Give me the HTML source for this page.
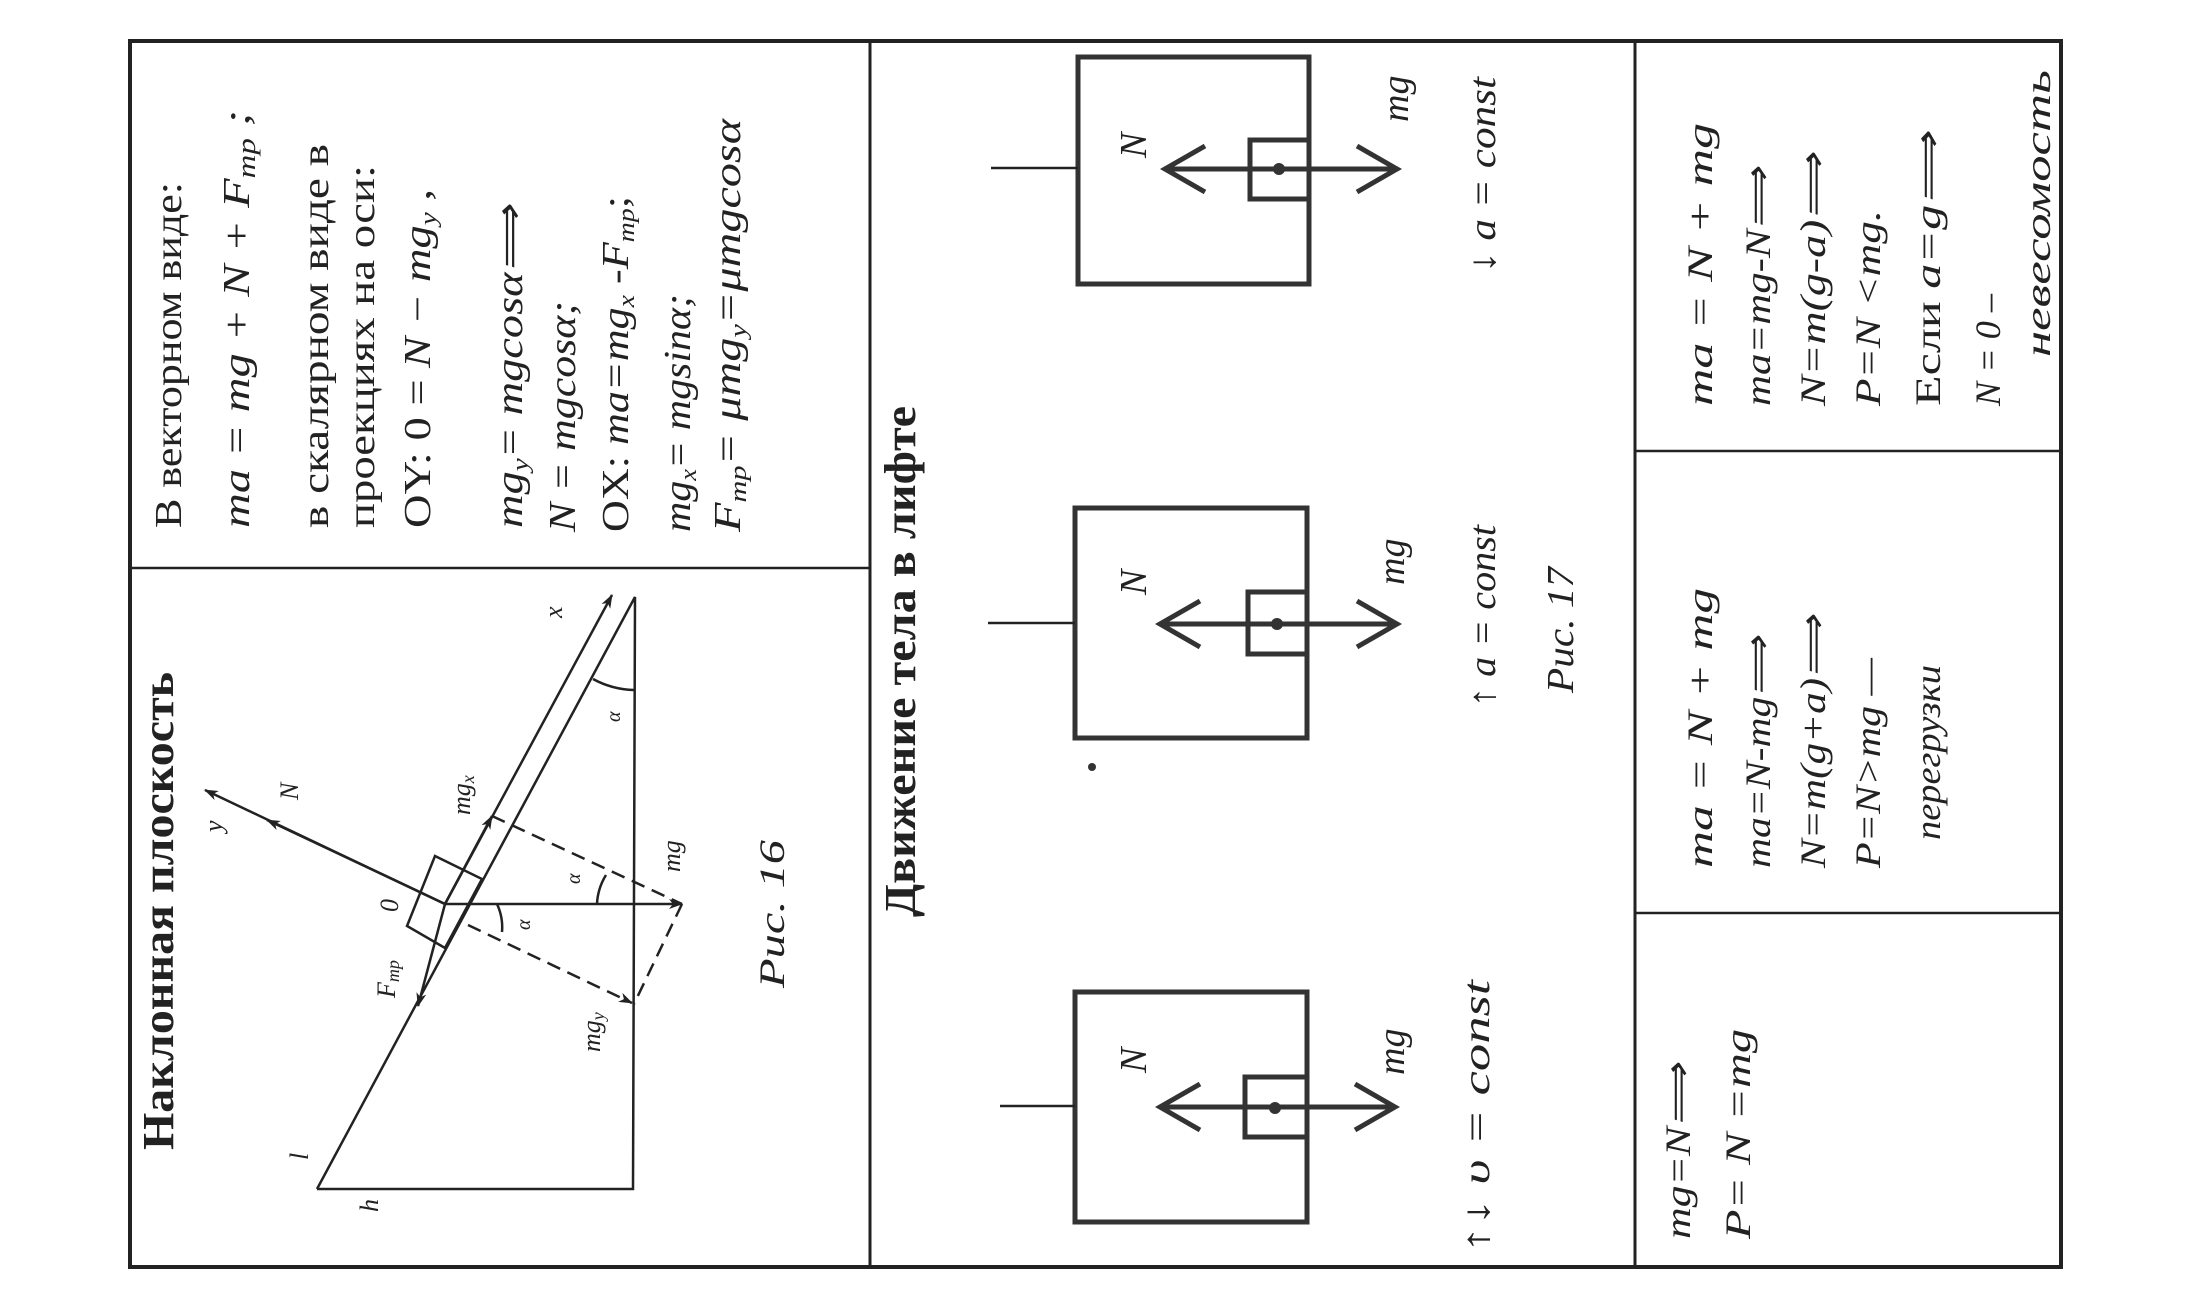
<!DOCTYPE html>
<html><head><meta charset="utf-8"><style>
html,body{margin:0;padding:0;background:#fff;}
svg{display:block;}
text{font-family:"Liberation Serif",serif;fill:#222;}
.i{font-style:italic;}
.b{font-weight:bold;}
</style></head><body>
<svg width="2200" height="1300" viewBox="0 0 2200 1300" xmlns="http://www.w3.org/2000/svg">
<defs>
<marker id="ah" markerWidth="14" markerHeight="10" refX="13" refY="5" orient="auto" markerUnits="userSpaceOnUse">
<path d="M0,0 L14,5 L0,10 L4,5 Z" fill="#222"/>
</marker>
</defs>
<g stroke="#222" fill="none">
<rect x="130" y="41" width="1931" height="1226" stroke-width="4"/>
<line x1="870" y1="41" x2="870" y2="1267" stroke-width="3"/>
<line x1="1635" y1="41" x2="1635" y2="1267" stroke-width="3"/>
<line x1="130" y1="568" x2="870" y2="568" stroke-width="2.5"/>
<line x1="1635" y1="451" x2="2061" y2="451" stroke-width="2.5"/>
<line x1="1635" y1="913" x2="2061" y2="913" stroke-width="2.5"/>

<g stroke-width="2.5">
<polyline points="317,1189 635,597 633,1189 317,1189"/>
<polygon points="435,856 482,879 445,948 407,926"/>
<line x1="445" y1="904" x2="612" y2="595" marker-end="url(#ah)"/>
<line x1="445" y1="904" x2="492" y2="816" marker-end="url(#ah)"/>
<line x1="445" y1="904" x2="418" y2="1006" marker-end="url(#ah)"/>
<line x1="445" y1="904" x2="205" y2="790" marker-end="url(#ah)"/>
<line x1="445" y1="904" x2="267" y2="820" marker-end="url(#ah)"/>
<line x1="445" y1="904" x2="682" y2="904" marker-end="url(#ah)"/>
<line x1="468" y1="925" x2="632" y2="1003" stroke-dasharray="14,8" marker-end="url(#ah)"/>
<line x1="492" y1="816" x2="682" y2="904" stroke-dasharray="14,8"/>
<line x1="682" y1="904" x2="634" y2="1004" stroke-dasharray="14,8"/>
<path d="M593,679 A90,90 0 0 0 634,690"/>
<path d="M597,904 A60,60 0 0 1 606,875"/>
<path d="M497,904 A55,55 0 0 1 502,932"/>
</g>

<g stroke-width="5" stroke="#333">
<rect x="1075" y="992" width="232" height="230"/>
<rect x="1245" y="1077" width="62" height="60"/>
<rect x="1075" y="508" width="232" height="230"/>
<rect x="1248" y="592" width="59" height="62"/>
<rect x="1078" y="57" width="231" height="227"/>
<rect x="1250" y="140" width="59" height="59"/>
</g>
<g stroke-width="2.5">
<line x1="1000" y1="1106" x2="1075" y2="1106"/>
<line x1="988" y1="623" x2="1075" y2="623"/>
<line x1="991" y1="168" x2="1078" y2="168"/>
</g>
<g stroke-width="5" stroke="#333">
<line x1="1160" y1="1107" x2="1395" y2="1107"/>
<polyline points="1200,1084 1160,1107 1200,1130"/>
<polyline points="1355,1084 1395,1107 1355,1130"/>
<line x1="1160" y1="624" x2="1397" y2="624"/>
<polyline points="1200,601 1160,624 1200,647"/>
<polyline points="1357,601 1397,624 1357,647"/>
<line x1="1165" y1="169" x2="1397" y2="169"/>
<polyline points="1205,146 1165,169 1205,192"/>
<polyline points="1357,146 1397,169 1357,192"/>
</g>
</g>
<g fill="#333">
<circle cx="1275" cy="1108" r="6"/>
<circle cx="1277" cy="624" r="6"/>
<circle cx="1279" cy="169" r="6"/>
<circle cx="1092" cy="767" r="4"/>
</g>

<g font-size="38">
<text transform="translate(181,528) rotate(-90)" textLength="346" lengthAdjust="spacingAndGlyphs">В векторном виде:</text>
<text class="i" transform="translate(249,528) rotate(-90)" textLength="418" lengthAdjust="spacingAndGlyphs">ma = mg + N + F<tspan font-size="26" dy="6">тр</tspan><tspan dy="-6"> ;</tspan></text>
<text transform="translate(328,528) rotate(-90)" textLength="384" lengthAdjust="spacingAndGlyphs">в скалярном виде в</text>
<text transform="translate(374,528) rotate(-90)" textLength="363" lengthAdjust="spacingAndGlyphs">проекциях на оси:</text>
<text transform="translate(430,528) rotate(-90)" textLength="339" lengthAdjust="spacingAndGlyphs">OY: 0 = <tspan class="i">N − mg</tspan><tspan class="i" font-size="24" dy="6">y</tspan><tspan dy="-6"> ,</tspan></text>
<text class="i" transform="translate(522,528) rotate(-90)" textLength="322" lengthAdjust="spacingAndGlyphs">mg<tspan font-size="24" dy="6">y</tspan><tspan dy="-6">= mgcosα⟹</tspan></text>
<text class="i" transform="translate(575,532) rotate(-90)" textLength="231" lengthAdjust="spacingAndGlyphs">N = mgcosα;</text>
<text transform="translate(628,532) rotate(-90)" textLength="336" lengthAdjust="spacingAndGlyphs">OX: <tspan class="i">ma=mg</tspan><tspan class="i" font-size="24" dy="6">x</tspan><tspan class="i" dy="-6"> -F</tspan><tspan class="i" font-size="24" dy="6">тр</tspan><tspan dy="-6">;</tspan></text>
<text class="i" transform="translate(690,532) rotate(-90)" textLength="238" lengthAdjust="spacingAndGlyphs">mg<tspan font-size="24" dy="6">x</tspan><tspan dy="-6">= mgsinα;</tspan></text>
<text class="i" transform="translate(740,532) rotate(-90)" textLength="413" lengthAdjust="spacingAndGlyphs">F<tspan font-size="24" dy="6">тр</tspan><tspan dy="-6">= μmg</tspan><tspan font-size="24" dy="6">y</tspan><tspan dy="-6">=μmgcosα</tspan></text>
</g>
<text class="b" font-size="44" transform="translate(173,1150) rotate(-90)" textLength="478" lengthAdjust="spacingAndGlyphs">Наклонная плоскость</text>

<g class="i" font-size="26">
<text transform="translate(222,832) rotate(-90)">y</text>
<text transform="translate(298,800) rotate(-90)">N</text>
<text transform="translate(562,618) rotate(-90)">x</text>
<text transform="translate(470,815) rotate(-90)">mg<tspan font-size="18" dy="4">x</tspan></text>
<text transform="translate(680,872) rotate(-90)">mg</text>
<text transform="translate(398,912) rotate(-90)">0</text>
<text transform="translate(395,998) rotate(-90)">F<tspan font-size="18" dy="4">тр</tspan></text>
<text transform="translate(600,1052) rotate(-90)">mg<tspan font-size="18" dy="4">y</tspan></text>
<text transform="translate(620,722) rotate(-90)" font-size="20">α</text>
<text transform="translate(580,884) rotate(-90)" font-size="20">α</text>
<text transform="translate(530,930) rotate(-90)" font-size="20">α</text>
<text transform="translate(308,1160) rotate(-90)">l</text>
<text transform="translate(378,1212) rotate(-90)">h</text>
</g>
<text class="i" font-size="36" transform="translate(784,988) rotate(-90)" textLength="148" lengthAdjust="spacingAndGlyphs">Рис. 16</text>

<text class="b" font-size="44" transform="translate(915,917) rotate(-90)" textLength="511" lengthAdjust="spacingAndGlyphs">Движение тела в лифте</text>
<g class="i" font-size="38">
<text transform="translate(1146,1073) rotate(-90)">N</text>
<text transform="translate(1404,1075) rotate(-90)">mg</text>
<text transform="translate(1146,595) rotate(-90)">N</text>
<text transform="translate(1404,585) rotate(-90)">mg</text>
<text transform="translate(1146,158) rotate(-90)">N</text>
<text transform="translate(1408,122) rotate(-90)">mg</text>
<text transform="translate(1489,1253) rotate(-90)" textLength="273" lengthAdjust="spacingAndGlyphs"><tspan font-style="normal">↑↓</tspan> υ = const</text>
<text transform="translate(1495,707) rotate(-90)" textLength="182" lengthAdjust="spacingAndGlyphs"><tspan font-style="normal">↑</tspan> a = const</text>
<text transform="translate(1573,693) rotate(-90)" textLength="126" lengthAdjust="spacingAndGlyphs">Рис. 17</text>
<text transform="translate(1495,273) rotate(-90)" textLength="196" lengthAdjust="spacingAndGlyphs"><tspan font-style="normal">↓</tspan> a = const</text>
</g>

<g class="i" font-size="36">
<text transform="translate(1712,406) rotate(-90)" textLength="283" lengthAdjust="spacingAndGlyphs">ma = N + mg</text>
<text transform="translate(1770,406) rotate(-90)" textLength="238" lengthAdjust="spacingAndGlyphs">ma=mg-N⟹</text>
<text transform="translate(1825,406) rotate(-90)" textLength="252" lengthAdjust="spacingAndGlyphs">N=m(g-a)⟹</text>
<text transform="translate(1880,406) rotate(-90)" textLength="196" lengthAdjust="spacingAndGlyphs">P=N &lt;mg.</text>
<text transform="translate(1940,406) rotate(-90)" textLength="273" lengthAdjust="spacingAndGlyphs"><tspan font-style="normal">Если </tspan>a=g⟹</text>
<text transform="translate(2000,406) rotate(-90)" textLength="112" lengthAdjust="spacingAndGlyphs">N = 0 –</text>
<text transform="translate(2050,357) rotate(-90)" textLength="287" lengthAdjust="spacingAndGlyphs">невесомость</text>

<text transform="translate(1712,868) rotate(-90)" textLength="280" lengthAdjust="spacingAndGlyphs">ma = N + mg</text>
<text transform="translate(1770,868) rotate(-90)" textLength="231" lengthAdjust="spacingAndGlyphs">ma=N-mg⟹</text>
<text transform="translate(1825,868) rotate(-90)" textLength="252" lengthAdjust="spacingAndGlyphs">N=m(g+a)⟹</text>
<text transform="translate(1880,868) rotate(-90)" textLength="210" lengthAdjust="spacingAndGlyphs">P=N&gt;mg —</text>
<text transform="translate(1940,840) rotate(-90)" textLength="175" lengthAdjust="spacingAndGlyphs">перегрузки</text>

<text transform="translate(1690,1239) rotate(-90)" textLength="175" lengthAdjust="spacingAndGlyphs">mg=N⟹</text>
<text transform="translate(1750,1239) rotate(-90)" textLength="210" lengthAdjust="spacingAndGlyphs">P= N =mg</text>
</g>
</svg>
</body></html>
